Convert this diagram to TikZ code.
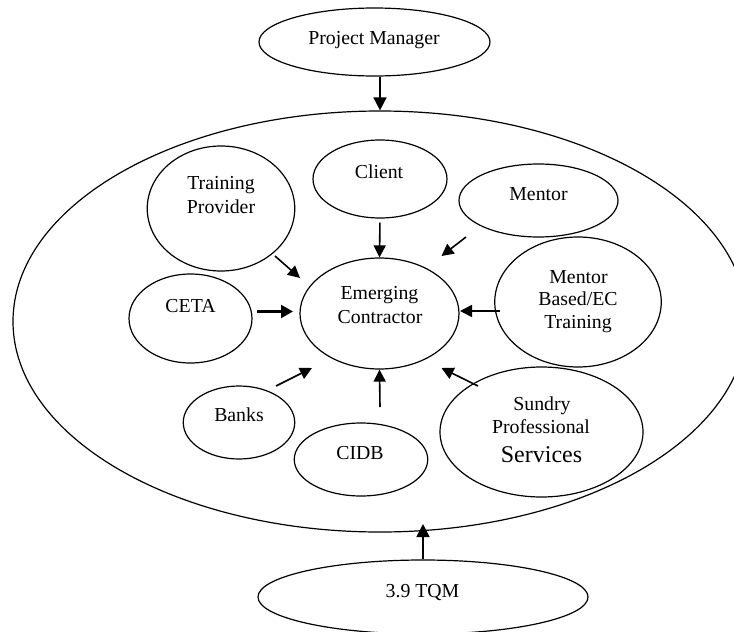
\documentclass[tikz,border=0pt]{standalone}
\usepackage{fontspec}
\setmainfont{Liberation Serif}
\usetikzlibrary{shapes.geometric,arrows.meta}
\begin{document}
\begin{tikzpicture}[x=1pt,y=-1pt,
  ell/.style={draw, ellipse, line width=1.2pt, inner sep=0pt},
  txt/.style={font=\fontsize{19.8}{24}\selectfont, anchor=base, inner sep=0pt},
  bigtxt/.style={font=\fontsize{24}{28}\selectfont, anchor=base, inner sep=0pt},
  arr/.style={line width=1.6pt, -{Triangle[length=12pt,width=12pt]}},
  thickarr/.style={line width=2.2pt, -{Triangle[length=12pt,width=13pt]}},
  bigarr/.style={line width=1.6pt, -{Triangle[length=13pt,width=13pt]}},
]
\clip (0,0) rectangle (734,632);
\fill[white] (0,0) rectangle (734,632);

% ellipses
\node[ell, minimum width=734pt, minimum height=421pt] (big) at (380,321.5) {};
\node[ell, minimum width=231pt, minimum height=68pt] (pm) at (374.5,42) {};
\node[ell, minimum width=134pt, minimum height=78pt] (client) at (380,179) {};
\node[ell, minimum width=147.5pt, minimum height=125pt] (tp) at (221,208.5) {};
\node[ell, minimum width=159pt, minimum height=73pt] (mentor) at (538.5,200.5) {};
\node[ell, minimum width=159pt, minimum height=111pt] (ec) at (379.5,313.5) {};
\node[ell, minimum width=123pt, minimum height=89pt] (ceta) at (190.5,318.5) {};
\node[ell, minimum width=166.5pt, minimum height=130pt] (mb) at (578,302) {};
\node[ell, minimum width=111.5pt, minimum height=73pt] (banks) at (239,422.5) {};
\node[ell, minimum width=133.5pt, minimum height=73pt] (cidb) at (361,459.5) {};
\node[ell, minimum width=203pt, minimum height=130pt] (sundry) at (541.5,432) {};
\node[ell, minimum width=330pt, minimum height=74pt] (tqm) at (423,597) {};

% texts
\node[txt] (pmT) at (374,44) {Project Manager};
\node[txt] (clientT) at (379,178) {Client};
\node[txt] (tpT1) at (221,189) {Training};
\node[txt] (tpT2) at (221,213) {Provider};
\node[txt] (mentorT) at (538.5,200) {Mentor};
\node[txt] (ecT1) at (379.5,299) {Emerging};
\node[txt] (ecT2) at (380,323.5) {Contractor};
\node[txt] (cetaT) at (190.5,312) {CETA};
\node[txt] (mbT1) at (578.5,283) {Mentor};
\node[txt] (mbT2) at (578,305.5) {Based/EC};
\node[txt] (mbT3) at (578,328) {Training};
\node[txt] (banksT) at (239,421.5) {Banks};
\node[txt] (cidbT) at (360,459) {CIDB};
\node[txt] (sunT1) at (542,410) {Sundry};
\node[txt] (sunT2) at (541,433) {Professional};
\node[bigtxt] (sunT3) at (541.5,462) {Services};
\node[txt] (tqmT) at (422.5,597) {3.9 TQM};

% free connector ends
\coordinate (mentorA) at (466,237);
\coordinate (mentorB) at (441.5,256);
\coordinate (tpA) at (275,256);
\coordinate (tpB) at (300,278);
\coordinate (cetaA) at (257,311.5);
\coordinate (cetaB) at (293,311.5);
\coordinate (mbA) at (500,311);
\coordinate (mbB) at (460,311);
\coordinate (banksA) at (276,386);
\coordinate (banksB) at (312,368);
\coordinate (cidbA) at (380,407);
\coordinate (sundryA) at (478,386);
\coordinate (sundryB) at (441.5,368);
\coordinate (tqmB) at (423,524);

% connectors
\draw[bigarr] (big.north |- pm.south) -- (big.north);
\draw[arr, shorten <=4pt] (client.south) -- (ec.north);
\draw[arr] (mentorA) -- (mentorB);
\draw[arr] (tpA) -- (tpB);
\draw[thickarr] (cetaA) -- (cetaB);
\draw[arr] (mbA) -- (mbB);
\draw[arr] (banksA) -- (banksB);
\draw[arr] (cidbA) -- (ec.south);
\draw[arr] (sundryA) -- (sundryB);
\draw[bigarr] (tqm.north) -- (tqmB);
\end{tikzpicture}
\end{document}
